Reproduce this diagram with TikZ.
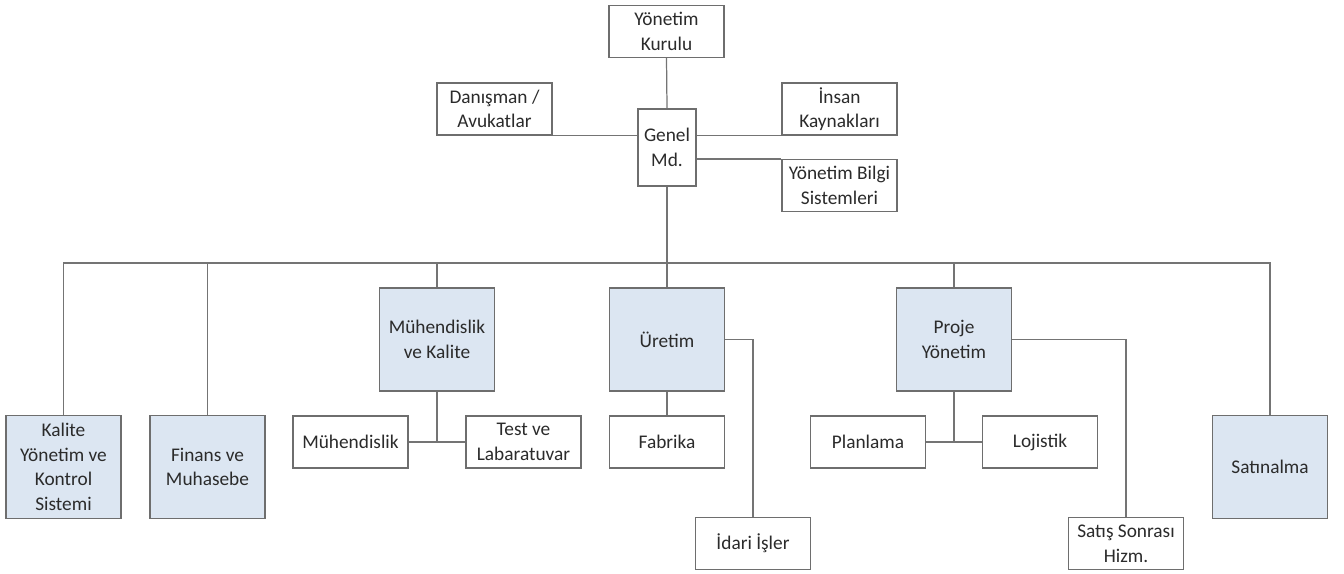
\documentclass[tikz,border=0pt]{standalone}
\usepackage{fontspec}
\setmainfont{Carlito}
\definecolor{boxline}{HTML}{6E6E6E}
\definecolor{wire}{HTML}{747474}
\definecolor{deptfill}{HTML}{DCE6F2}
\definecolor{ink}{HTML}{2B2B2B}
\begin{document}
\begin{tikzpicture}[
    x=0.02cm, y=-0.02cm,
    % Style for the plain white boxes
    unit/.style={draw=boxline, fill=white, line width=0.7pt, align=center,
        text=ink, font=\fontsize{11}{14}\selectfont,
        minimum width=2.3cm, minimum height=1.04cm, inner sep=1pt},
    % Style for the blue department boxes
    dept/.style={unit, fill=deptfill, minimum height=2.06cm},
    wireline/.style={draw=wire, line width=0.7pt}
]
    \useasboundingbox (0,0) rectangle (1344,574);

    % --- 1. Top management ---
    \node[unit] (kurul) at (666.5,31.5) {Yönetim\\Kurulu};
    \node[unit, minimum width=1.16cm, minimum height=1.54cm] (genel) at (667,147.5) {Genel\\Md.};
    \node[unit] (danisman) at (494.5,109) {Danışman /\\Avukatlar};
    \node[unit] (insan) at (839.5,109) {İnsan\\Kaynakları};
    \node[unit] (ybs) at (839.5,185.5) {Yönetim Bilgi\\Sistemleri};

    % --- 2. Departments ---
    \node[dept] (kalite) at (63.5,467) {Kalite\\Yönetim ve\\Kontrol\\Sistemi};
    \node[dept] (finans) at (207.5,467) {Finans ve\\Muhasebe};
    \node[dept] (muhkal) at (437,339.5) {Mühendislik\\ve Kalite};
    \node[dept] (uretim) at (667,339.5) {Üretim};
    \node[dept] (proje) at (954,339.5) {Proje\\Yönetim};
    \node[dept] (satin) at (1270,467) {Satınalma};

    % --- 3. Sub units ---
    \node[unit] (muhend) at (350.5,442) {Mühendislik};
    \node[unit] (test) at (523.5,442) {Test ve\\Labaratuvar};
    \node[unit] (fabrika) at (667,442) {Fabrika};
    \node[unit] (planlama) at (868,442) {Planlama};
    \node[unit] (lojistik) at (1040,442) {Lojistik};
    \node[unit] (idari) at (753,543.5) {İdari İşler};
    \node[unit] (satis) at (1126,543.5) {Satış Sonrası\\Hizm.};

    % --- 4. Connectors ---
    \coordinate (bus) at (667,263);
    \draw[wireline] (kurul.south) -- (genel.north);
    \draw[wireline] (danisman.south east) -- (danisman.south east -| genel.west);
    \draw[wireline] (insan.south west) -- (insan.south west -| genel.east);
    \draw[wireline] (ybs.north west) -- (ybs.north west -| genel.east);
    \draw[wireline] (genel.south) -- (bus);

    % Bus to departments
    \draw[wireline] (kalite.north) |- (bus) -| (satin.north);
    \draw[wireline] (finans.north) -- (finans.north |- bus);
    \draw[wireline] (muhkal.north) -- (muhkal.north |- bus);
    \draw[wireline] (uretim.north) -- (bus);
    \draw[wireline] (proje.north) -- (proje.north |- bus);

    % Departments to sub units
    \draw[wireline] (muhend.east) -- (test.west);
    \draw[wireline] (muhkal.south) -- (muhkal.south |- muhend.east);
    \draw[wireline] (uretim.south) -- (fabrika.north);
    \draw[wireline] (uretim.east) -| (idari.north);
    \draw[wireline] (planlama.east) -- (lojistik.west);
    \draw[wireline] (proje.south) -- (proje.south |- planlama.east);
    \draw[wireline] (proje.east) -| (satis.north);

\end{tikzpicture}
\end{document}
